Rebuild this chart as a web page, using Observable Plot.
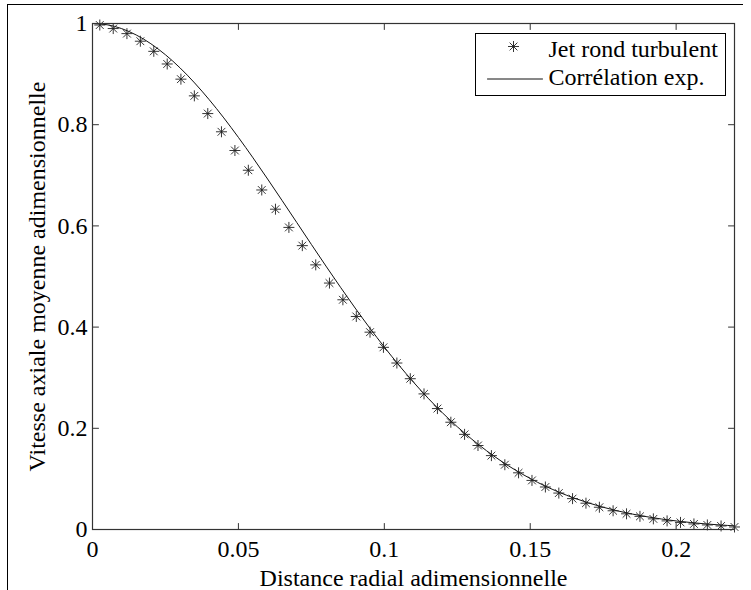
<!DOCTYPE html>
<html><head><meta charset="utf-8">
<script src="https://cdn.jsdelivr.net/npm/d3@7"></script>
<script src="https://cdn.jsdelivr.net/npm/@observablehq/plot@0.6"></script>
<style>
html,body{margin:0;padding:0;background:#fff;}
#wrap{position:relative;width:751px;height:590px;overflow:hidden;}
#outer{position:absolute;left:7px;top:4px;width:735px;height:600px;border-left:1px solid #000;border-top:1px solid #000;pointer-events:none;z-index:2;}
</style></head><body><div id="wrap"><div id="outer"></div></div>
<script>
// ---- data ----
const starX = [0.0025,0.0071,0.0118,0.0164,0.0210,0.0256,0.0303,0.0349,0.0395,0.0442,0.0488,0.0534,0.0580,0.0627,0.0673,0.0719,0.0765,0.0812,0.0858,0.0904,0.0951,0.0997,0.1043,0.1089,0.1136,0.1182,0.1228,0.1275,0.1321,0.1367,0.1413,0.1460,0.1506,0.1552,0.1598,0.1645,0.1691,0.1737,0.1784,0.1830,0.1876,0.1922,0.1969,0.2015,0.2061,0.2107,0.2154,0.2200];
const starY = [0.997,0.990,0.980,0.965,0.945,0.920,0.890,0.857,0.822,0.786,0.749,0.710,0.671,0.633,0.597,0.561,0.523,0.487,0.454,0.421,0.390,0.360,0.329,0.298,0.268,0.239,0.212,0.188,0.166,0.146,0.128,0.112,0.097,0.084,0.072,0.061,0.052,0.044,0.037,0.031,0.026,0.021,0.017,0.014,0.011,0.009,0.007,0.005];
const curveX = [0,0.005,0.01,0.015,0.02,0.025,0.03,0.035,0.04,0.045,0.05,0.055,0.06,0.065,0.07,0.075,0.08,0.085,0.09,0.095,0.1,0.105,0.11,0.115,0.12,0.125,0.13,0.135,0.14,0.145,0.15,0.155,0.16,0.165,0.17,0.175,0.18,0.185,0.19,0.195,0.2,0.205,0.21,0.215,0.22];
const curveY = [1,0.9975,0.9899,0.9773,0.9600,0.9382,0.9123,0.8825,0.8494,0.8134,0.7749,0.7345,0.6927,0.6499,0.6067,0.5634,0.5206,0.4786,0.4377,0.3983,0.3606,0.3248,0.2911,0.2595,0.2302,0.2031,0.1784,0.1558,0.1354,0.1171,0.1008,0.0862,0.0734,0.0622,0.0525,0.0440,0.0367,0.0305,0.0252,0.0207,0.0169,0.0138,0.0111,0.0090,0.0072];
const xTicks = [0,0.05,0.1,0.15,0.2];
const xTickLabels = ["0","0.05","0.1","0.15","0.2"];
const yTicks = [0,0.2,0.4,0.6,0.8,1];
const yTickLabels = ["0","0.2","0.4","0.6","0.8","1"];
const seriesNames = ["Jet rond turbulent","Corrélation exp."];
const xTitle = "Distance radial adimensionnelle";
const yTitle = "Vitesse axiale moyenne adimensionnelle";

const stars = starX.map((x,i)=>({x, y: starY[i]}));
const curve = curveX.map((x,i)=>({x, y: curveY[i]}));

const asterisk = {
  draw(ctx, size) {
    const r = Math.sqrt(size / Math.PI);
    const d = r * Math.SQRT1_2;
    ctx.moveTo(-r, 0); ctx.lineTo(r, 0);
    ctx.moveTo(0, -r); ctx.lineTo(0, r);
    ctx.moveTo(-d, -d); ctx.lineTo(d, d);
    ctx.moveTo(-d, d); ctx.lineTo(d, -d);
  }
};
const lineShape = {draw(ctx, l){ ctx.moveTo(0,0); ctx.lineTo(0,-l); }};
const axisColor = "#333";
const tickLen = 6;
const starStroke = "#1e1e1e";

const chart = Plot.plot({
  width: 751, height: 590,
  marginLeft: 92, marginRight: 17, marginTop: 23, marginBottom: 61,
  style: {fontFamily: "'Liberation Serif','Times New Roman',serif", fontSize: "24px", color: "black", background: "transparent"},
  x: {domain: [0, 0.22]},
  y: {domain: [0, 1]},
  marks: [
    Plot.axisX({ticks: xTicks, tickSize: 0, tickPadding: 10, tickFormat: d => xTickLabels[xTicks.indexOf(d)], label: null, fill: "black"}),
    Plot.axisY({ticks: yTicks, tickSize: 0, tickPadding: 5, tickFormat: d => yTickLabels[yTicks.indexOf(d)], label: null, fill: "black"}),
    Plot.vector(xTicks, {x: d => d, y: 0, length: tickLen, rotate: 0, anchor: "start", shape: lineShape, stroke: axisColor, strokeWidth: 1}),
    Plot.vector(xTicks, {x: d => d, y: 1, length: tickLen, rotate: 180, anchor: "start", shape: lineShape, stroke: axisColor, strokeWidth: 1}),
    Plot.vector(yTicks, {x: 0, y: d => d, length: tickLen, rotate: 90, anchor: "start", shape: lineShape, stroke: axisColor, strokeWidth: 1}),
    Plot.vector(yTicks, {x: 0.22, y: d => d, length: tickLen, rotate: -90, anchor: "start", shape: lineShape, stroke: axisColor, strokeWidth: 1}),
    Plot.line(curve, {x: "x", y: "y", curve: "natural", stroke: "#111", strokeWidth: 1}),
    Plot.dot(stars, {x: "x", y: "y", symbol: asterisk, r: 5.5, stroke: starStroke, strokeWidth: 0.9, fill: "none"}),
    Plot.frame({stroke: axisColor, strokeWidth: 1.2}),
    // legend
    Plot.frame({fill: "white", stroke: "black", strokeWidth: 1, insetLeft: 383, insetRight: 9, insetTop: 10, insetBottom: 434}),
    Plot.dot([seriesNames[0]], {frameAnchor: "top-right", dx: -221, dy: 23, symbol: asterisk, r: 5.5, stroke: starStroke, strokeWidth: 0.9, fill: "none"}),
    Plot.vector([seriesNames[1]], {frameAnchor: "top-right", dx: -247, dy: 55.5, length: 55, rotate: 90, anchor: "start", shape: lineShape, stroke: "#111", strokeWidth: 1}),
    Plot.text([seriesNames[0]], {text: d => d, frameAnchor: "top-right", dx: -186, dy: 26, textAnchor: "start", lineAnchor: "middle", fill: "black"}),
    Plot.text([seriesNames[1]], {text: d => d, frameAnchor: "top-right", dx: -186, dy: 53.5, textAnchor: "start", lineAnchor: "middle", fill: "black"}),
    // titles
    Plot.text([xTitle], {text: d => d, frameAnchor: "bottom", dy: 48.5, textAnchor: "middle", lineAnchor: "middle", fill: "black"}),
    Plot.text([yTitle], {text: d => d, frameAnchor: "left", dx: -55, rotate: -90, textAnchor: "middle", lineAnchor: "middle", fill: "black"})
  ]
});
const wrap = document.getElementById("wrap");
wrap.insertBefore(chart, document.getElementById("outer"));
</script>
</body></html>
